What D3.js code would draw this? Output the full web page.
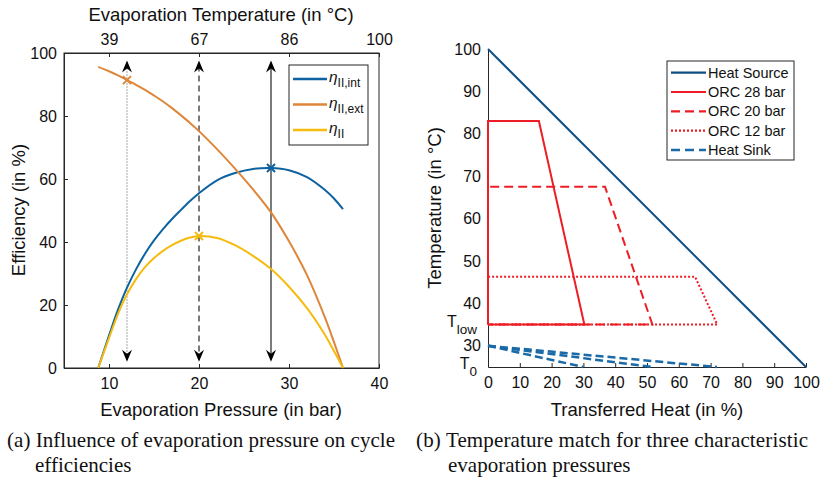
<!DOCTYPE html>
<html><head><meta charset="utf-8">
<script src="https://cdn.jsdelivr.net/npm/d3@7"></script>
<style>body{margin:0;background:#fff}svg{display:block}</style>
</head><body>
<svg id="c" width="825" height="481"></svg>
<script>
// ---------- data (left panel) ----------
const pressure = [8.8, 10, 11, 12, 13, 14, 15, 16, 17, 18, 19, 20, 22, 24, 26, 28, 30, 32, 34, 35, 36];
const etaInt   = [0, 10.3, 18.5, 25.5, 31.3, 36.3, 40.5, 44.1, 47.3, 50.2, 53, 55.5, 59.6, 61.9, 63.2, 63.5, 62.8, 60.6, 56.5, 53.8, 50.4];
const etaExt   = [95.6, 94.2, 92.9, 91.4, 89.9, 88.3, 86.5, 84.6, 82.5, 80.2, 77.8, 75.2, 69.5, 63.3, 56.7, 49.4, 40.2, 29.5, 16, 8.2, 0];
const etaII    = [0, 9.5, 17.2, 23.4, 28.2, 32, 34.9, 37.2, 39, 40.4, 41.4, 41.9, 41.3, 39, 35.6, 31.4, 25.8, 19, 10.5, 5.4, 0];
const pressureTicks = [10, 20, 30, 40];
const evapTempLabels = ["39", "67", "86", "100"];
const effTicks = [0, 20, 40, 60, 80, 100];
const markedPressures = [12, 20, 28];          // arrows: dotted, dashed, solid
const markedValues = [91.4, 41.9, 63.5];        // x markers on ext, II, int
const leftLegend = ["II,int", "II,ext", "II"];

// ---------- data (right panel) ----------
const heatQ = [0, 100], heatT = [100, 25];
const orc28Q = [0, 0, 16, 30.3, 0],   orc28T = [35, 83, 83, 35, 35];
const orc20Q = [0, 0, 36.8, 51.7, 0], orc20T = [35, 67.5, 67.5, 35, 35];
const orc12Q = [0, 0, 65.1, 72.1, 0], orc12T = [35, 46.3, 46.3, 35, 35];
const sinkEndQ = [30, 51.5, 72], sinkT = [30, 25];
const heatTicks = [0, 10, 20, 30, 40, 50, 60, 70, 80, 90, 100];
const tempTicks = [30, 40, 50, 60, 70, 80, 90, 100];
const rightLegend = ["Heat Source", "ORC 28 bar", "ORC 20 bar", "ORC 12 bar", "Heat Sink"];

const captionA = ["(a) Influence of evaporation pressure on cycle", "efficiencies"];
const captionB = ["(b) Temperature match for three characteristic", "evaporation pressures"];

// ---------- styles ----------
const FONT = "'Liberation Sans', Arial, Helvetica, sans-serif";
const SERIF = "'Liberation Serif', 'Times New Roman', serif";
const AX = "#262626";
const C_INT = "#0d62a0", C_EXT = "#de8639", C_II = "#f5bb0f";
const C_SRC = "#0f4f82", C_RED = "#ee1d25", C_SINK = "#1a6aa8";

const svg = d3.select("#c");

function styleAxis(g, fs) {
  g.selectAll("path.domain").attr("stroke", AX).attr("stroke-width", 1);
  g.selectAll(".tick line").attr("stroke", AX);
  g.selectAll("text").attr("fill", "#111").style("font-family", FONT).style("font-size", fs + "px");
}

// ================= LEFT PANEL =================
const xL = d3.scaleLinear().domain([5, 40]).range([64, 379]);
const yL = d3.scaleLinear().domain([0, 100]).range([368, 53]);

svg.append("rect").attr("x", 64).attr("y", 53).attr("width", 315).attr("height", 315)
  .attr("fill", "none").attr("stroke", AX).attr("stroke-width", 1);

const gxb = svg.append("g").attr("transform", "translate(0,368)")
  .call(d3.axisBottom(xL).tickValues(pressureTicks).tickSizeInner(-4).tickSizeOuter(0).tickPadding(10).tickFormat(d3.format("d")));
styleAxis(gxb, 16);
const gyl = svg.append("g").attr("transform", "translate(64,0)")
  .call(d3.axisLeft(yL).tickValues(effTicks).tickSizeInner(-4).tickSizeOuter(0).tickPadding(7));
styleAxis(gyl, 16);
const gxt = svg.append("g").attr("transform", "translate(0,53)")
  .call(d3.axisTop(xL).tickValues(pressureTicks).tickSizeInner(-4).tickSizeOuter(0).tickPadding(8)
    .tickFormat((d, i) => evapTempLabels[i]));
styleAxis(gxt, 16);

svg.append("text").attr("x", 221).attr("y", 416).attr("text-anchor", "middle")
  .style("font-family", FONT).style("font-size", "18.5px").attr("fill", "#111").text("Evaporation Pressure (in bar)");
svg.append("text").attr("x", 221).attr("y", 21).attr("text-anchor", "middle")
  .style("font-family", FONT).style("font-size", "18.5px").attr("fill", "#111").text("Evaporation Temperature (in °C)");
svg.append("text").attr("transform", "translate(25,210) rotate(-90)").attr("text-anchor", "middle")
  .style("font-family", FONT).style("font-size", "18.5px").attr("fill", "#111").text("Efficiency (in %)");

const lineL = (vals) => d3.line().x((d, i) => xL(pressure[i])).y(d => yL(d)).curve(d3.curveCatmullRom.alpha(0.5))(vals);
const curves = [[etaInt, C_INT], [etaExt, C_EXT], [etaII, C_II]];

// arrows
const arrowDash = ["1,2", "6,4", null];
const arrowCol = ["#777", "#333", "#333"];
markedPressures.forEach((p, i) => {
  const x = xL(p);
  const l = svg.append("line").attr("x1", x).attr("x2", x).attr("y1", yL(96)).attr("y2", yL(3))
    .attr("stroke", arrowCol[i]).attr("stroke-width", 1.3);
  if (arrowDash[i]) l.attr("stroke-dasharray", arrowDash[i]);
  const yt = yL(97.6), yb = yL(2);
  svg.append("path").attr("d", `M${x},${yt} L${x - 5},${yt + 12} L${x},${yt + 8} L${x + 5},${yt + 12} Z`).attr("fill", "#000");
  svg.append("path").attr("d", `M${x},${yb} L${x - 5},${yb - 12} L${x},${yb - 8} L${x + 5},${yb - 12} Z`).attr("fill", "#000");
});

curves.forEach(([v, c]) => {
  svg.append("path").attr("d", lineL(v)).attr("fill", "none").attr("stroke", c).attr("stroke-width", 2);
});

const markCols = [C_EXT, C_II, C_INT];
markedPressures.forEach((p, i) => {
  const x = xL(p), y = yL(markedValues[i]), s = 4;
  svg.append("path").attr("d", `M${x - s},${y - s}L${x + s},${y + s}M${x - s},${y + s}L${x + s},${y - s}`)
    .attr("stroke", markCols[i]).attr("stroke-width", 2);
});

// left legend
svg.append("rect").attr("x", 289).attr("y", 65).attr("width", 79).attr("height", 80)
  .attr("fill", "#fff").attr("stroke", AX).attr("stroke-width", 1);
[C_INT, C_EXT, C_II].forEach((c, i) => {
  const y = 79 + i * 25.5;
  svg.append("line").attr("x1", 293).attr("x2", 327).attr("y1", y).attr("y2", y).attr("stroke", c).attr("stroke-width", 2.5);
  const t = svg.append("text").attr("x", 329).attr("y", y + 3).style("font-family", FONT).attr("fill", "#111");
  t.append("tspan").text("η").style("font-style", "italic").style("font-size", "15.5px");
  t.append("tspan").text(leftLegend[i]).attr("dy", 5).style("font-size", "12px");
});

// ================= RIGHT PANEL =================
const xR = d3.scaleLinear().domain([0, 100]).range([488, 806]);
const yR = d3.scaleLinear().domain([25, 100]).range([367, 49]);

const gxr = svg.append("g").attr("transform", "translate(0,367)")
  .call(d3.axisBottom(xR).tickValues(heatTicks).tickSizeInner(-4).tickSizeOuter(0).tickPadding(10));
styleAxis(gxr, 16);
const gyr = svg.append("g").attr("transform", "translate(488,0)")
  .call(d3.axisLeft(yR).tickValues(tempTicks).tickSize(0).tickPadding(7));
styleAxis(gyr, 16);

function subLabel(tval, sub) {
  const t = svg.append("text").attr("x", 477).attr("y", yR(tval) + 2).attr("text-anchor", "end")
    .style("font-family", FONT).attr("fill", "#111");
  t.append("tspan").text("T").style("font-size", "16px");
  t.append("tspan").text(sub).attr("dy", 7).style("font-size", "13.5px");
}
subLabel(35, "low");
subLabel(25, "0");

svg.append("text").attr("x", 647).attr("y", 416).attr("text-anchor", "middle")
  .style("font-family", FONT).style("font-size", "18.5px").attr("fill", "#111").text("Transferred Heat (in %)");
svg.append("text").attr("transform", "translate(441,208) rotate(-90)").attr("text-anchor", "middle")
  .style("font-family", FONT).style("font-size", "18.5px").attr("fill", "#111").text("Temperature (in °C)");

const lineR = (Q, T) => d3.line().x((d, i) => xR(Q[i])).y((d, i) => yR(T[i]))(Q);

svg.append("path").attr("d", lineR(heatQ, heatT)).attr("fill", "none").attr("stroke", C_SRC).attr("stroke-width", 2);
sinkEndQ.forEach(q => {
  svg.append("path").attr("d", lineR([0, q], sinkT)).attr("fill", "none").attr("stroke", C_SINK)
    .attr("stroke-width", 2.5).attr("stroke-dasharray", "8,4");
});
svg.append("path").attr("d", lineR(orc12Q, orc12T)).attr("fill", "none").attr("stroke", C_RED).attr("stroke-width", 2).attr("stroke-dasharray", "2,2");
svg.append("path").attr("d", lineR(orc20Q, orc20T)).attr("fill", "none").attr("stroke", C_RED).attr("stroke-width", 2).attr("stroke-dasharray", "9,5");
svg.append("path").attr("d", lineR(orc28Q, orc28T)).attr("fill", "none").attr("stroke", C_RED).attr("stroke-width", 2);

svg.append("rect").attr("x", 667).attr("y", 61).attr("width", 127).attr("height", 99)
  .attr("fill", "#fff").attr("stroke", AX).attr("stroke-width", 1);
const legStyles = [[C_SRC, null, 2.2], [C_RED, null, 2.2], [C_RED, "9,5", 2.2], [C_RED, "2,2", 2.2], [C_SINK, "9,5", 2.5]];
rightLegend.forEach((name, i) => {
  const y = 72.7 + i * 19.3;
  const l = svg.append("line").attr("x1", 671).attr("x2", 706).attr("y1", y).attr("y2", y)
    .attr("stroke", legStyles[i][0]).attr("stroke-width", legStyles[i][2]);
  if (legStyles[i][1]) l.attr("stroke-dasharray", legStyles[i][1]);
  svg.append("text").attr("x", 708).attr("y", y + 5).style("font-family", FONT).style("font-size", "14.5px")
    .attr("fill", "#111").text(name);
});

// ================= CAPTIONS =================
function caption(lines, x0, indent, w) {
  lines.forEach((s, i) => {
    const t = svg.append("text").attr("x", i === 0 ? x0 : x0 + indent).attr("y", 447 + i * 25)
      .style("font-family", SERIF).style("font-size", "21px").attr("fill", "#111").text(s);
    if (i === 0) t.attr("textLength", w).attr("lengthAdjust", "spacing");
  });
}
caption(captionA, 7, 28, 388);
caption(captionB, 416, 32, 392);
</script>
</body></html>
